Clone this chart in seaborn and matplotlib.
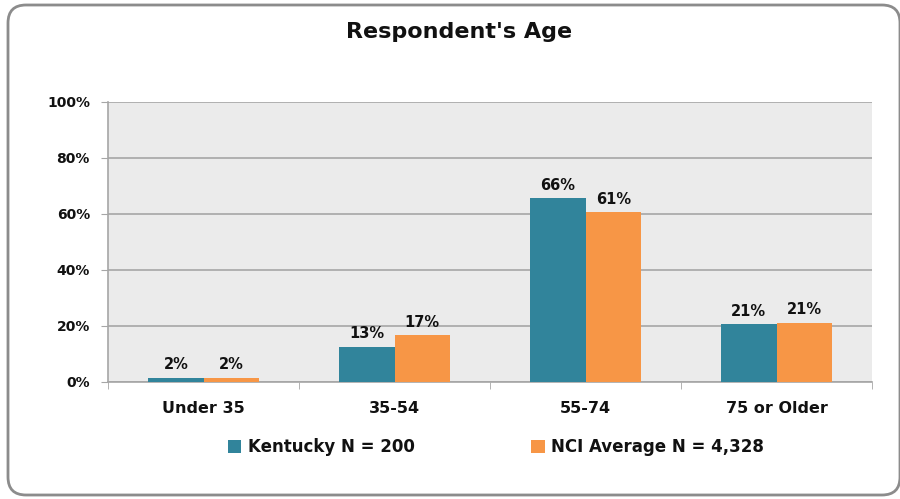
import seaborn as sns
import matplotlib.pyplot as plt
import pandas as pd
from matplotlib.patches import FancyBboxPatch
from matplotlib.ticker import FixedLocator

categories = ["Under 35", "35-54", "55-74", "75 or Older"]
kentucky = [1.6, 12.6, 65.6, 20.6]
nci = [1.6, 16.7, 60.6, 21.2]
kentucky_labels = ["2%", "13%", "66%", "21%"]
nci_labels = ["2%", "17%", "61%", "21%"]
series = ["Kentucky N = 200", "NCI Average N = 4,328"]

df = pd.DataFrame({
    "age": categories * 2,
    "pct": kentucky + nci,
    "group": [series[0]] * 4 + [series[1]] * 4,
})

sns.set_style("white")
plt.rcParams['font.family'] = ['DejaVu Sans']
plt.rcParams['text.color'] = '#111111'
plt.rcParams['xtick.color'] = '#111111'
plt.rcParams['ytick.color'] = '#111111'

fig = plt.figure(figsize=(9, 4.99), dpi=100)
ax = fig.add_axes([0.12, 0.2345, 0.849, 0.5611])

# rounded outer frame, drawn in inches so the corners stay round
frame = FancyBboxPatch((0.08, 0.04), 8.92, 4.9, boxstyle="round,pad=0,rounding_size=0.18",
                       transform=fig.dpi_scale_trans, facecolor="none", edgecolor="#8c8c8c",
                       linewidth=2, zorder=-1)
fig.patches.append(frame)

sns.barplot(data=df, x="age", y="pct", hue="group", palette=["#31849B", "#F79646"],
            width=0.58, saturation=1, linewidth=0, ax=ax, zorder=3)

ax.set_facecolor("#EBEBEB")
ax.set_ylim(0, 100)
ax.set_xlim(-0.5, 3.5)
ax.set_yticks([0, 20, 40, 60, 80, 100])
ax.set_yticklabels([f"{v}%" for v in range(0, 101, 20)], fontsize=10, fontweight="bold")
ax.yaxis.grid(True, color="#A6A6A6", linewidth=1.2, zorder=0)
ax.set_axisbelow(True)
ax.tick_params(axis="y", length=5, color="#A6A6A6", direction="out", left=True, pad=8)
ax.set_xticks(range(4))
ax.set_xticklabels(categories, fontsize=11.5, fontweight="bold")
ax.tick_params(axis="x", length=0, pad=14)
ax.xaxis.set_minor_locator(FixedLocator([-0.5, 0.5, 1.5, 2.5, 3.5]))
ax.tick_params(axis="x", which="minor", length=5, color="#A6A6A6", direction="out", bottom=True)
for s in ["top", "right"]:
    ax.spines[s].set_visible(False)
for s in ["left", "bottom"]:
    ax.spines[s].set_color("#A6A6A6")
    ax.spines[s].set_linewidth(1.2)
ax.set_xlabel("")
ax.set_ylabel("")

ax.bar_label(ax.containers[0], labels=kentucky_labels, padding=4, fontsize=10.5, fontweight="bold")
ax.bar_label(ax.containers[1], labels=nci_labels, padding=4, fontsize=10.5, fontweight="bold")

fig.text(0.51, 1 - 32 / 499, "Respondent's Age", fontsize=16, fontweight="bold",
         ha="center", va="center")

handles, labels = ax.get_legend_handles_labels()
ax.get_legend().remove()
fig.legend(handles, labels, loc="center", bbox_to_anchor=(0.551, 1 - 447 / 499), ncol=2,
           frameon=False, prop={"weight": "bold", "size": 12}, handlelength=0.8,
           handleheight=0.8, columnspacing=7, handletextpad=0.4)

fig.savefig("out.png", dpi=100)
